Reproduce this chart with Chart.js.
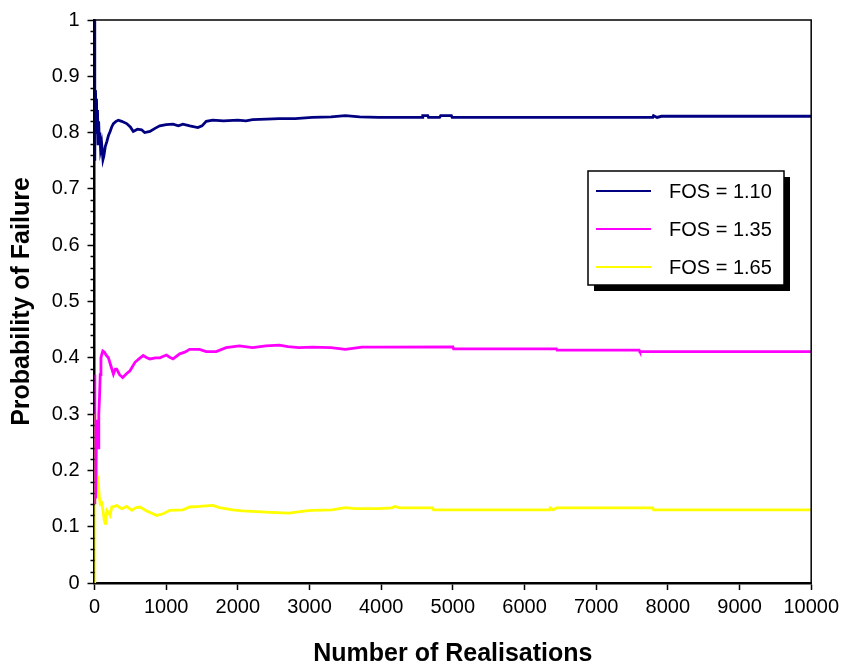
<!DOCTYPE html>
<html lang="en">
<head>
  <meta charset="utf-8" />
  <title>Probability of Failure vs Number of Realisations</title>
  <script src="https://cdn.jsdelivr.net/npm/chart.js@4.4.1/dist/chart.umd.min.js"></script>
  <style>
    html, body { margin: 0; padding: 0; background: #fff; }
    #wrap { width: 844px; height: 669px; position: relative; }
  </style>
</head>
<body>
<div id="wrap"><canvas id="myChart"></canvas></div>

<script>
// Series labels
const seriesLabels = ['FOS = 1.10', 'FOS = 1.35', 'FOS = 1.65'];

// FOS = 1.10 (realisation, probability)
const fos110X = [1, 4, 8, 12, 16, 22, 28, 35, 42, 50, 58, 66, 75, 85, 100, 118, 130, 150, 172, 195,
  218, 240, 264, 300, 333, 380, 449, 500, 541, 600, 657, 700, 773, 850, 911, 1000, 1096, 1170, 1234,
  1330, 1442, 1500, 1559, 1650, 1800, 2000, 2114, 2205, 2400, 2576, 2800, 3037, 3300, 3500, 3700,
  3963, 4570, 4580, 4650, 4660, 4815, 4830, 4980, 4990, 7790, 7800, 7850, 7910, 10000];
const fos110Y = [1.0, 0.75, 0.875, 0.83, 0.875, 0.82, 0.86, 0.80, 0.84, 0.78, 0.82, 0.79, 0.80, 0.77,
  0.78, 0.752, 0.758, 0.775, 0.784, 0.795, 0.802, 0.81, 0.816, 0.82, 0.822, 0.82, 0.816, 0.81, 0.802,
  0.806, 0.805, 0.80, 0.802, 0.808, 0.812, 0.814, 0.815, 0.812, 0.815, 0.812, 0.809, 0.812, 0.820,
  0.822, 0.821, 0.822, 0.821, 0.823, 0.824, 0.825, 0.825, 0.827, 0.828, 0.830, 0.828, 0.827, 0.827,
  0.830, 0.830, 0.827, 0.827, 0.830, 0.830, 0.827, 0.827, 0.830, 0.827, 0.829, 0.829];

// FOS = 1.35
const fos135X = [1, 3, 6, 10, 15, 20, 25, 32, 40, 50, 60, 70, 80, 90, 100, 116, 140, 160, 194, 230,
  264, 290, 310, 350, 393, 450, 495, 565, 620, 680, 730, 773, 850, 911, 1004, 1050, 1096, 1189, 1260,
  1327, 1466, 1559, 1698, 1836, 2021, 2205, 2391, 2576, 2700, 2853, 3037, 3300, 3500, 3731, 3963,
  5000, 5010, 6445, 6455, 7600, 7610, 10000];
const fos135Y = [0.37, 0.14, 0.25, 0.17, 0.28, 0.15, 0.24, 0.29, 0.27, 0.24, 0.30, 0.33, 0.37, 0.40,
  0.405, 0.412, 0.41, 0.405, 0.40, 0.385, 0.371, 0.38, 0.38, 0.37, 0.365, 0.372, 0.377, 0.392, 0.398,
  0.404, 0.40, 0.398, 0.40, 0.40, 0.405, 0.401, 0.398, 0.407, 0.41, 0.415, 0.415, 0.411, 0.411, 0.418,
  0.421, 0.418, 0.421, 0.4225, 0.42, 0.418, 0.419, 0.418, 0.415, 0.419, 0.419, 0.4195, 0.416, 0.416,
  0.4135, 0.4135, 0.411, 0.411];

// FOS = 1.65
const fos165X = [1, 3, 5, 8, 12, 16, 22, 28, 35, 45, 55, 65, 80, 100, 110, 125, 135, 148, 160, 172,
  195, 218, 241, 280, 310, 340, 380, 449, 519, 580, 634, 727, 800, 865, 957, 1050, 1234, 1327, 1466,
  1650, 1743, 1928, 2067, 2391, 2715, 2946, 3037, 3315, 3500, 3639, 3963, 4150, 4190, 4260, 4720,
  4730, 6350, 6360, 6400, 6450, 7790, 7800, 10000];
const fos165Y = [0.0, 0.30, 0.20, 0.25, 0.18, 0.22, 0.17, 0.20, 0.19, 0.16, 0.18, 0.155, 0.14, 0.142,
  0.135, 0.123, 0.112, 0.106, 0.115, 0.129, 0.125, 0.120, 0.135, 0.136, 0.138, 0.135, 0.132, 0.136,
  0.129, 0.134, 0.135, 0.128, 0.124, 0.120, 0.123, 0.129, 0.130, 0.135, 0.136, 0.138, 0.134, 0.130,
  0.128, 0.126, 0.124, 0.128, 0.129, 0.130, 0.134, 0.132, 0.132, 0.1335, 0.136, 0.1335, 0.1335,
  0.130, 0.130, 0.1335, 0.130, 0.1335, 0.1335, 0.130, 0.130];

const seriesColors = ['#000080', '#FF00FF', '#FFFF00'];

function toPoints(xs, ys) {
  return xs.map((x, i) => ({ x: x, y: ys[i] }));
}

// frame, minor y ticks and boxed legend with shadow
const extrasPlugin = {
  id: 'extras',
  afterDraw(chart) {
    const ctx = chart.ctx;
    const a = chart.chartArea;
    const ys = chart.scales.y;
    ctx.save();
    // top and right frame
    ctx.strokeStyle = '#000';
    ctx.lineWidth = 1.5;
    ctx.beginPath();
    ctx.moveTo(a.left, a.top);
    ctx.lineTo(a.right, a.top);
    ctx.lineTo(a.right, a.bottom);
    ctx.stroke();
    // minor ticks every 0.02
    for (let v = 0.02; v < 1; v += 0.02) {
      if (Math.abs(v * 10 - Math.round(v * 10)) < 1e-6) continue;
      const py = Math.round(ys.getPixelForValue(v)) + 0.5;
      ctx.beginPath();
      ctx.moveTo(a.left - 4, py);
      ctx.lineTo(a.left, py);
      ctx.stroke();
    }
    // legend
    const lx = 588, ly = 171, lw = 196, lh = 114;
    ctx.fillStyle = '#000';
    ctx.fillRect(lx + 6, ly + 6, lw, lh);
    ctx.fillStyle = '#fff';
    ctx.fillRect(lx, ly, lw, lh);
    ctx.strokeStyle = '#000';
    ctx.lineWidth = 1.5;
    ctx.strokeRect(lx, ly, lw, lh);
    ctx.font = '20px "Liberation Sans", Arial, sans-serif';
    ctx.textBaseline = 'middle';
    ctx.textAlign = 'left';
    chart.data.datasets.forEach((ds, i) => {
      const yy = ly + 20 + i * 38;
      ctx.strokeStyle = ds.borderColor;
      ctx.lineWidth = 2;
      ctx.beginPath();
      ctx.moveTo(lx + 8, yy);
      ctx.lineTo(lx + 63, yy);
      ctx.stroke();
      ctx.fillStyle = '#000';
      ctx.fillText(ds.label, lx + 81, yy + 1);
    });
    ctx.restore();
  }
};

window.addEventListener('load', () => {
  const ctx = document.getElementById('myChart').getContext('2d');
  const xsAll = [fos110X, fos135X, fos165X];
  const ysAll = [fos110Y, fos135Y, fos165Y];

  new Chart(ctx, {
    type: 'line',
    data: {
      datasets: seriesLabels.map((lab, i) => ({
        label: lab,
        data: toPoints(xsAll[i], ysAll[i]),
        borderColor: seriesColors[i],
        borderWidth: 2.8,
        pointRadius: 0,
        fill: false,
        tension: 0
      }))
    },
    options: {
      responsive: true,
      maintainAspectRatio: false,
      animation: false,
      layout: { padding: { top: 18, right: 32, left: 0, bottom: 0 } },
      plugins: {
        legend: { display: false },
        tooltip: { enabled: false }
      },
      scales: {
        x: {
          type: 'linear',
          min: 0,
          max: 10000,
          afterFit(scale) { scale.height = 86; },
          ticks: {
            stepSize: 1000,
            color: '#000',
            padding: 5,
            maxRotation: 0,
            font: { family: '"Liberation Sans", Arial, sans-serif', size: 20 },
            callback: v => String(v)
          },
          grid: { drawOnChartArea: false, tickLength: 7, tickColor: '#000', tickWidth: 1.5 },
          border: { color: '#000', width: 2.5 },
          title: {
            display: true,
            text: 'Number of Realisations',
            color: '#000',
            padding: { top: 12, bottom: 0 },
            font: { family: '"Liberation Sans", Arial, sans-serif', size: 25, weight: 'bold' }
          }
        },
        y: {
          min: 0,
          max: 1,
          afterFit(scale) { scale.width = 94.5; },
          ticks: {
            stepSize: 0.1,
            color: '#000',
            padding: 8,
            font: { family: '"Liberation Sans", Arial, sans-serif', size: 20 },
            callback: v => (Math.round(v * 10) / 10).toString()
          },
          grid: { drawOnChartArea: false, tickLength: 7, tickColor: '#000', tickWidth: 1.5 },
          border: { color: '#000', width: 2.5 },
          title: {
            display: true,
            text: 'Probability of Failure',
            color: '#000',
            padding: { top: 7, bottom: 4 },
            font: { family: '"Liberation Sans", Arial, sans-serif', size: 25, weight: 'bold' }
          }
        }
      }
    },
    plugins: [extrasPlugin]
  });
});
</script>
</body>
</html>
